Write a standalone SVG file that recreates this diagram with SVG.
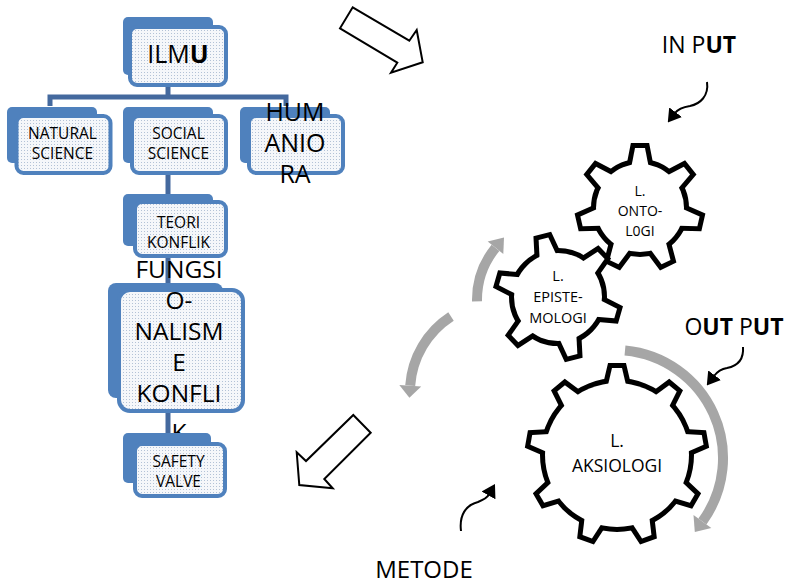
<svg xmlns="http://www.w3.org/2000/svg" xmlns:xlink="http://www.w3.org/1999/xlink" width="795" height="584" viewBox="0 0 795 584">
<style>
.back{fill:#4f81bd;}
.front{fill:url(#dots);stroke:#4f81bd;stroke-width:4;}
.conn{fill:none;stroke:#44699e;stroke-width:5;stroke-linejoin:miter;}
.lbl{font-family:"Open Sans","Liberation Sans",sans-serif;fill:#000;text-anchor:middle;}
.gear-stroke{fill:#000;stroke:#000;stroke-width:10;stroke-linejoin:miter;}
.gear-fill{fill:#fff;stroke:none;}
.cycle{fill:none;stroke:#a6a6a6;stroke-width:10;}
.cyclehead{fill:#a6a6a6;}
.curvy{fill:none;stroke:#000;stroke-width:2;marker-end:url(#ah);}
.big{fill:#fff;stroke:#000;stroke-width:2;stroke-linejoin:miter;}
.b{font-weight:bold;}
</style>
<defs>
<pattern id="dots" width="3" height="3" patternUnits="userSpaceOnUse">
<rect width="3" height="3" fill="#f5f7fa"/>
<rect width="1" height="1" fill="#b3c2d6"/>
</pattern>
<marker id="ah" markerUnits="userSpaceOnUse" viewBox="0 0 13 16" markerWidth="13" markerHeight="16" refX="1" refY="8" orient="auto">
<path d="M0,0 L13,8 L0,16 Z" fill="#000"/>
</marker>
<path id="toothS" d="M -8.5 -42 L -5 -60 L 5 -60 L 8.5 -42 Z"/>
<path id="toothL" d="M -9 -70 L -5 -87 L 5 -87 L 9 -70 Z"/>
<g id="gearOnto">
<circle r="44"/>
<use xlink:href="#toothS" transform="rotate(0)"/>
<use xlink:href="#toothS" transform="rotate(51.43)"/>
<use xlink:href="#toothS" transform="rotate(102.86)"/>
<use xlink:href="#toothS" transform="rotate(154.29)"/>
<use xlink:href="#toothS" transform="rotate(205.71)"/>
<use xlink:href="#toothS" transform="rotate(257.14)"/>
<use xlink:href="#toothS" transform="rotate(308.57)"/>
</g>
<g id="gearEpi">
<circle r="44"/>
<use xlink:href="#toothS" transform="rotate(-14)"/>
<use xlink:href="#toothS" transform="rotate(46)"/>
<use xlink:href="#toothS" transform="rotate(106)"/>
<use xlink:href="#toothS" transform="rotate(166)"/>
<use xlink:href="#toothS" transform="rotate(226)"/>
<use xlink:href="#toothS" transform="rotate(286)"/>
</g>
<g id="gearAks">
<circle r="72"/>
<use xlink:href="#toothL" transform="rotate(0)"/>
<use xlink:href="#toothL" transform="rotate(40)"/>
<use xlink:href="#toothL" transform="rotate(80)"/>
<use xlink:href="#toothL" transform="rotate(120)"/>
<use xlink:href="#toothL" transform="rotate(160)"/>
<use xlink:href="#toothL" transform="rotate(200)"/>
<use xlink:href="#toothL" transform="rotate(240)"/>
<use xlink:href="#toothL" transform="rotate(280)"/>
<use xlink:href="#toothL" transform="rotate(320)"/>
</g>
</defs>
<rect width="795" height="584" fill="#fff"/>

<g id="connectors">
<path class="conn" d="M168 86 V97"/>
<path class="conn" d="M50 106 V97 H286 V106"/>
<path class="conn" d="M168 174 V196"/>
<path class="conn" d="M168 256 V285"/>
<path class="conn" d="M168 411 V435"/>
</g>

<g id="node-ilmu">
<rect class="back" x="123" y="17" width="90" height="58" rx="5"/>
<rect class="front" x="130" y="27" width="96" height="58" rx="7"/>
<text class="lbl" x="178" y="63" font-size="25">ILM<tspan class="b">U</tspan></text>
</g>
<g id="node-natural">
<rect class="back" x="7" y="107" width="90" height="56" rx="5"/>
<rect class="front" x="16.5" y="116" width="94" height="57" rx="7"/>
<text class="lbl" x="62.5" y="139" font-size="15.5">NATURAL</text>
<text class="lbl" x="62.5" y="159" font-size="15.5">SCIENCE</text>
</g>
<g id="node-social">
<rect class="back" x="123" y="107" width="90" height="56" rx="5"/>
<rect class="front" x="132" y="116" width="94" height="57" rx="7"/>
<text class="lbl" x="178.5" y="139" font-size="15.5">SOCIAL</text>
<text class="lbl" x="178.5" y="159" font-size="15.5">SCIENCE</text>
</g>
<g id="node-humaniora">
<rect class="back" x="240" y="107" width="90" height="56" rx="5"/>
<rect class="front" x="249" y="116" width="94" height="57" rx="7"/>
<text class="lbl" x="295" y="121" font-size="25">HUM</text>
<text class="lbl" x="295" y="152" font-size="25">ANIO</text>
<text class="lbl" x="295" y="183" font-size="25">RA</text>
</g>
<g id="node-teori">
<rect class="back" x="123" y="194" width="90" height="52" rx="5"/>
<rect class="front" x="135" y="202" width="91" height="54" rx="7"/>
<text class="lbl" x="178.5" y="228" font-size="15.5">TEORI</text>
<text class="lbl" x="178.5" y="248" font-size="15.5">KONFLIK</text>
</g>
<g id="node-fungsionalisme">
<rect class="back" x="108" y="283" width="115" height="115" rx="8"/>
<rect class="front" x="119" y="290" width="124" height="121" rx="11"/>
<text class="lbl" x="179" y="278" font-size="24.5">FUNGSI</text>
<text class="lbl" x="179" y="309" font-size="24.5">O-</text>
<text class="lbl" x="179" y="340" font-size="24.5">NALISM</text>
<text class="lbl" x="179" y="371" font-size="24.5">E</text>
<text class="lbl" x="179" y="402" font-size="24.5">KONFLI</text>
<text class="lbl" x="179" y="441" font-size="24.5">K</text>
</g>
<g id="node-safety">
<rect class="back" x="123" y="433" width="88" height="50" rx="5"/>
<rect class="front" x="135" y="444" width="90" height="52" rx="7"/>
<text class="lbl" x="178.5" y="467" font-size="15.5">SAFETY</text>
<text class="lbl" x="178.5" y="487" font-size="15.5">VALVE</text>
</g>

<g id="big-arrows">
<polygon class="big" points="352.7,7.3 409.3,40.7 416.7,30 422.7,62.3 391,72.7 397.3,62.7 340,28.3"/>
<polygon class="big" points="353.3,415 370.7,432.7 324.3,479 332.7,488.3 299.3,485 296.7,452.3 306,461"/>
</g>

<g id="cycle-arrows">
<path class="cycle" d="M477 301.4 A83 83 0 0 1 495.5 247.8"/>
<polygon class="cyclehead" points="487.7,241.5 503.3,254.1 504,237.5"/>
<path class="cycle" d="M451 316.5 A90 90 0 0 0 410.2 385.7"/>
<polygon class="cyclehead" points="399.3,384.9 421.2,386.5 409.4,397.7"/>
<path class="cycle" d="M625 350.5 A108 108 0 0 1 702.4 521.5"/>
<polygon class="cyclehead" points="711.3,528 693.5,515 694.8,532"/>
</g>

<g id="node-ontologi" transform="translate(640 208)">
<use xlink:href="#gearOnto" class="gear-stroke"/>
<use xlink:href="#gearOnto" class="gear-fill"/>
<text class="lbl" x="0" y="-12" font-size="14">L.</text>
<text class="lbl" x="0" y="8" font-size="14">ONTO-</text>
<text class="lbl" x="0" y="28" font-size="14">L0GI</text>
</g>
<g id="node-epistemologi" transform="translate(558 297)">
<use xlink:href="#gearEpi" class="gear-stroke"/>
<use xlink:href="#gearEpi" class="gear-fill"/>
<text class="lbl" x="0" y="-16" font-size="14.5">L.</text>
<text class="lbl" x="0" y="5" font-size="14.5">EPISTE-</text>
<text class="lbl" x="0" y="26" font-size="14.5">MOLOGI</text>
</g>
<g id="node-aksiologi" transform="translate(617 455)">
<use xlink:href="#gearAks" class="gear-stroke"/>
<use xlink:href="#gearAks" class="gear-fill"/>
<text class="lbl" x="0" y="-8" font-size="17.5">L.</text>
<text class="lbl" x="0" y="17" font-size="17.5">AKSIOLOGI</text>
</g>

<g id="pointer-arrows">
<path class="curvy" d="M707 82 C709 96 700 104 690 106 C684 107 678 109 675 113"/>
<path class="curvy" d="M743 347 C744 360 737 366 727 368 C721 369 717 372 714 376"/>
<path class="curvy" d="M461 531 C459 515 466 505 478 502 C483 500 487 498 489 494.5"/>
</g>

<g id="labels">
<text class="lbl" x="699" y="53" font-size="23">IN P<tspan class="b">UT</tspan></text>
<text class="lbl" x="734" y="335" font-size="23">O<tspan class="b">UT</tspan> P<tspan class="b">UT</tspan></text>
<text class="lbl" x="424" y="578" font-size="24">METODE</text>
</g>
</svg>
